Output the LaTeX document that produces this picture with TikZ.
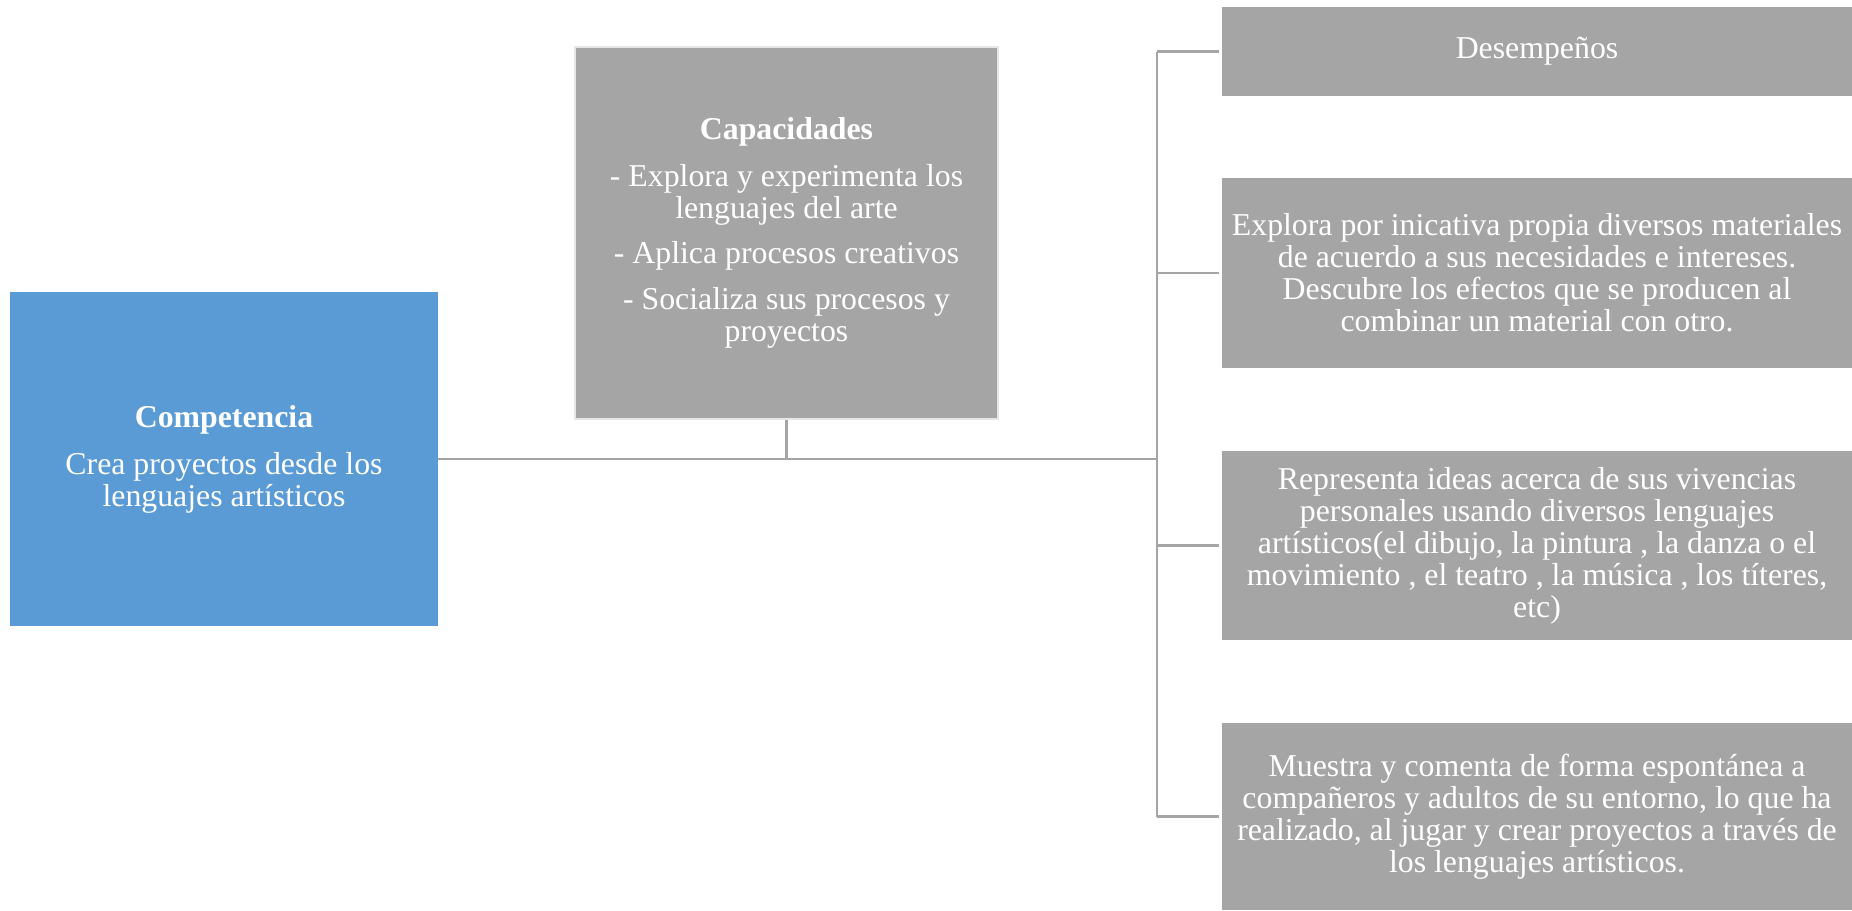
\documentclass[tikz,border=0pt]{standalone}
\usepackage{fontspec}
\setmainfont{Liberation Serif}
\definecolor{blu}{HTML}{5B9BD5}
\definecolor{gry}{HTML}{A5A5A5}
\definecolor{lin}{HTML}{A5A5A5}
\definecolor{edgec}{HTML}{E6E6E6}
\begin{document}
\begin{tikzpicture}[x=1pt,y=1pt,
  box/.style={rectangle, inner sep=0pt, text=white, align=center,
    font=\fontsize{31.8}{32}\selectfont},
  conn/.style={draw=lin, line width=2.2pt}]
\useasboundingbox (0,0) rectangle (1852,-910);
\fill[white] (0,0) rectangle (1852,-910);

\node[box, fill=blu, minimum width=428pt, minimum height=334pt] (comp) at (224,-459)
  {\textbf{Competencia}\\[15pt]Crea proyectos desde los\\lenguajes artísticos};

\node[box, fill=gry, draw=edgec, line width=2.5pt, minimum width=423pt, minimum height=372pt] (cap) at (786.5,-233)
  {\textbf{Capacidades}\\[15pt]- Explora y experimenta los\\lenguajes del arte\\[13pt]- Aplica procesos creativos\\[14pt]- Socializa sus procesos y\\proyectos};

\node[box, fill=gry, minimum width=630pt, minimum height=89pt] (d0) at (1537,-51.5) {Desempeños};

\node[box, fill=gry, minimum width=630pt, minimum height=190pt] (d1) at (1537,-273)
  {Explora por inicativa propia diversos materiales\\de acuerdo a sus necesidades e intereses.\\Descubre los efectos que se producen al\\combinar un material con otro.};

\node[box, fill=gry, minimum width=630pt, minimum height=189pt] (d2) at (1537,-545.5)
  {Representa ideas acerca de sus vivencias\\personales usando diversos lenguajes\\artísticos(el dibujo, la pintura , la danza o el\\movimiento , el teatro , la música , los títeres,\\etc)};

\node[box, fill=gry, minimum width=630pt, minimum height=187pt] (d3) at (1537,-816.5)
  {Muestra y comenta de forma espontánea a\\compañeros y adultos de su entorno, lo que ha\\realizado, al jugar y crear proyectos a través de\\los lenguajes artísticos.};

\coordinate (tmid) at (1157,-459);
\coordinate (ttop) at (1157,-51.5);
\coordinate (tbot) at (1157,-816.5);

\draw[conn] (comp.east) -- (tmid);
\draw[conn] (cap.south) -- (cap.south |- tmid);
\draw[conn] (ttop) -- (tbot);
\draw[conn, shorten >=3pt] (ttop) -- (d0.west);
\draw[conn, shorten >=3pt] (d1.west -| ttop) -- (d1.west);
\draw[conn, shorten >=3pt] (d2.west -| ttop) -- (d2.west);
\draw[conn, shorten >=3pt] (tbot) -- (d3.west);
\end{tikzpicture}
\end{document}
